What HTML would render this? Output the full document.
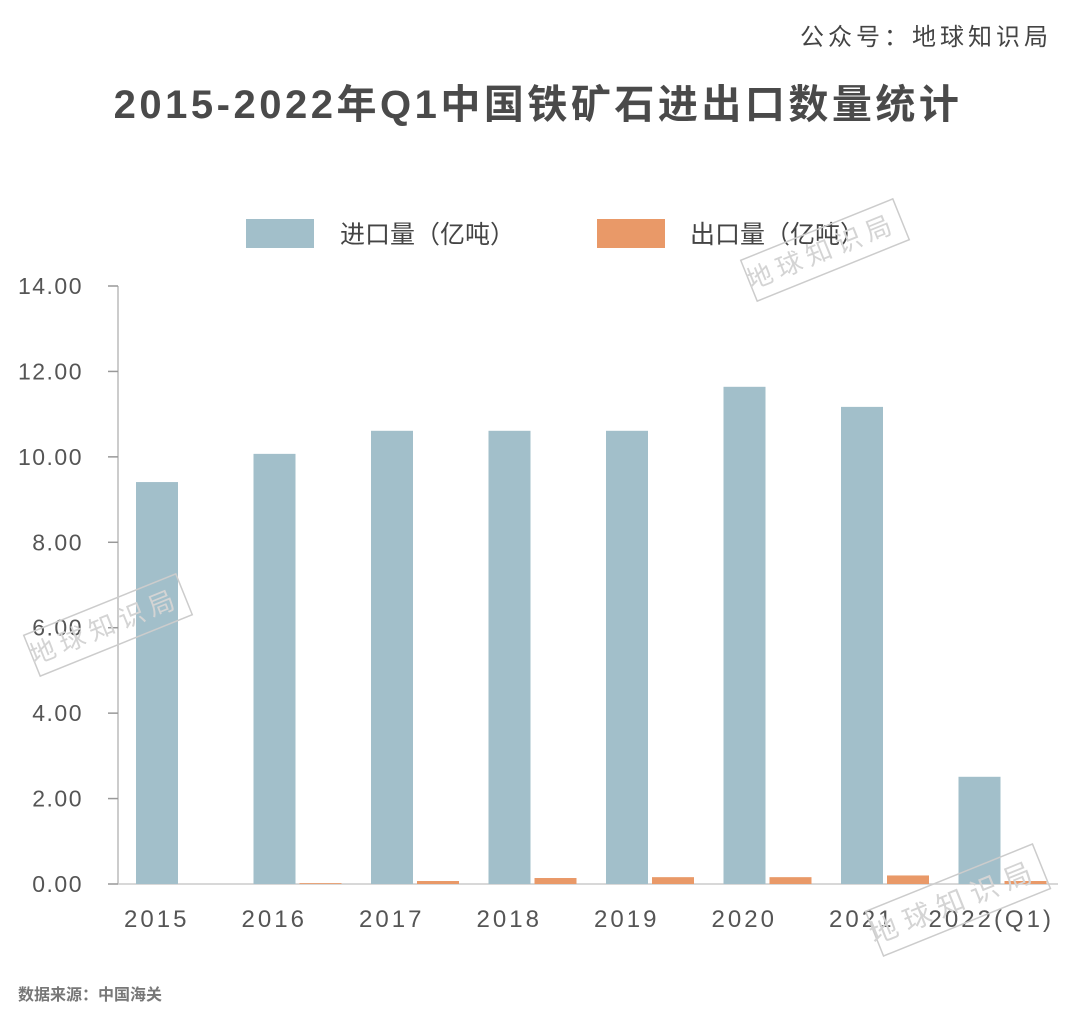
<!DOCTYPE html>
<html><head><meta charset="utf-8">
<style>
body{margin:0;background:#fff;}
svg text{font-family:"Liberation Sans","Noto Sans CJK SC",sans-serif;}
</style></head>
<body>
<svg id="chart" width="1080" height="1016" viewBox="0 0 1080 1016" xmlns="http://www.w3.org/2000/svg">
<text x="1052" y="45" text-anchor="end" font-size="24" fill="#444" letter-spacing="4">公众号：地球知识局</text>
<text x="538" y="118" text-anchor="middle" font-size="40" font-weight="bold" fill="#4a4a4a" letter-spacing="3.5">2015-2022年Q1中国铁矿石进出口数量统计</text>
<g>
<rect x="246" y="219" width="68" height="29" fill="#a2bfca"/>
<text x="340" y="243" font-size="25" fill="#444">进口量（亿吨）</text>
<rect x="597" y="219" width="68" height="29" fill="#e99968"/>
<text x="690" y="243" font-size="25" fill="#444">出口量（亿吨）</text>
</g>
<g id="axes"></g>
<g id="bars"></g>
<g id="xlabels"></g>
<text x="18" y="1000" font-size="16" font-weight="bold" fill="#777">数据来源：中国海关</text>
<g fill="none" stroke="#ccc" stroke-width="1.5">
<g transform="translate(825,250) rotate(-22)"><rect x="-82" y="-22" width="164" height="44"/></g>
<g transform="translate(108,625) rotate(-22)"><rect x="-82" y="-22" width="164" height="44"/></g>
<g transform="translate(958,900) rotate(-22)"><rect x="-90" y="-24" width="180" height="48"/></g>
</g>
<g fill="#d4d4d4" font-size="26" text-anchor="middle">
<text transform="translate(825,260) rotate(-22)" letter-spacing="6">地球知识局</text>
<text transform="translate(108,635) rotate(-22)" letter-spacing="6">地球知识局</text>
<text transform="translate(958,911) rotate(-22)" font-size="28" letter-spacing="8">地球知识局</text>
</g>
</svg>
<script>
const categories = ["2015","2016","2017","2018","2019","2020","2021","2022(Q1)"];
const importValues = [9.41, 10.07, 10.61, 10.61, 10.61, 11.64, 11.17, 2.51];
const exportValues = [0.0, 0.02, 0.07, 0.14, 0.16, 0.16, 0.20, 0.07];
const yTicks = [0, 2, 4, 6, 8, 10, 12, 14];
const yTickLabels = ["0.00","2.00","4.00","6.00","8.00","10.00","12.00","14.00"];

const NS = "http://www.w3.org/2000/svg";
const plotLeft = 118, plotRight = 1058, plotBottom = 884, plotTop = 286;
const yMax = 14;
function y(v){ return plotBottom - (v / yMax) * (plotBottom - plotTop); }
const band = (plotRight - plotLeft) / categories.length;
function x(i){ return plotLeft + i * band; }
function mk(tag, attrs, parent){
  const e = document.createElementNS(NS, tag);
  for (const k in attrs) e.setAttribute(k, attrs[k]);
  parent.appendChild(e); return e;
}
const axes = document.getElementById('axes');
const yAxis = mk('line', {x1:plotLeft, x2:plotLeft, y1:plotTop, y2:plotBottom, stroke:'#bbb', 'stroke-width':1.5}, axes);


const xAxis = mk('line', {x1:plotLeft, x2:plotRight, y1:plotBottom, y2:plotBottom, stroke:'#ccc', 'stroke-width':1.5}, axes);


yTicks.forEach((t, i) => {
  const tk = mk('line', {x1:plotLeft-10, x2:plotLeft, y1:y(t), y2:y(t), stroke:'#999', 'stroke-width':1.5}, axes);
  
  
  const lb = mk('text', {x:83, y:y(t)+8, 'text-anchor':'end', 'font-size':23, fill:'#555', 'letter-spacing':1.5}, axes);
  lb.textContent = yTickLabels[i];
  
  
});
const bars = document.getElementById('bars');
const xl = document.getElementById('xlabels');
const bw = 42;
categories.forEach((c, i) => {
  const ix = x(i) + 18;
  const b1 = mk('rect', {x:ix, y:y(importValues[i]), width:bw, height:plotBottom - y(importValues[i]), fill:'#a2bfca'}, bars);
  
  
  const b2 = mk('rect', {x:ix + bw + 4, y:y(exportValues[i]), width:bw, height:plotBottom - y(exportValues[i]), fill:'#e99968'}, bars);
  
  
  const t = mk('text', {x: x(i) + band/2 - (i===7 ? 8 : 20), y:927, 'text-anchor':'middle', 'font-size':24, fill:'#555', 'letter-spacing':3}, xl);
  t.textContent = c;
  
  
});
</script>
</body></html>
